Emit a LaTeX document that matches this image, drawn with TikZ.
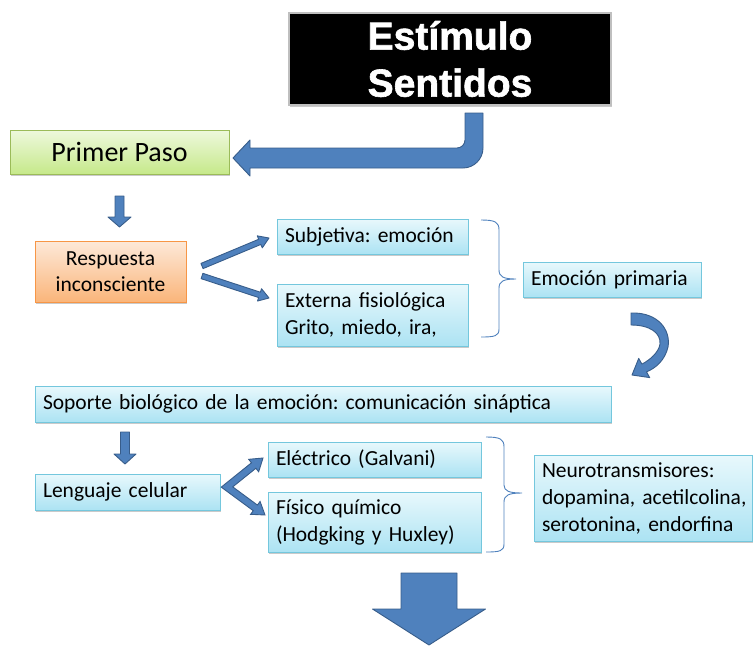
\documentclass[tikz,border=0pt]{standalone}
\usepackage{fontspec}
\setmainfont{Carlito}
\newfontfamily\headfont{Liberation Sans}[BoldFeatures={FakeBold=1.6}]
\usetikzlibrary{calc,shadows}
\frenchspacing
\definecolor{arrowfill}{HTML}{4F81BD}
\definecolor{arrowline}{HTML}{385D8A}
\definecolor{cyantop}{HTML}{E8F8FC}
\definecolor{cyanbot}{HTML}{ACE3F3}
\definecolor{cyanline}{HTML}{74C7DD}
\definecolor{greentop}{HTML}{EEF8DD}
\definecolor{greenbot}{HTML}{C6E98A}
\definecolor{greenline}{HTML}{9BBB59}
\definecolor{orangetop}{HTML}{FDE9D9}
\definecolor{orangebot}{HTML}{FAB57A}
\definecolor{orangeline}{HTML}{F79646}
\definecolor{bracecol}{HTML}{4F81BD}
\newcommand\blkarrow[5]{%
  \path ($(#2)!#5!(#1)$) coordinate (hb);
  \filldraw[blockarr] ($(#1)!#3!90:(#2)$) -- ($(hb)!#3!-90:(#1)$) -- ($(hb)!#4!-90:(#1)$) -- (#2) -- ($(hb)!#4!90:(#1)$) -- ($(hb)!#3!90:(#1)$) -- ($(#1)!#3!-90:(#2)$) -- cycle;}
\begin{document}
\begin{tikzpicture}[x=1pt,y=-1pt,
  blockarr/.style={fill=arrowfill,draw=arrowline,line width=0.9pt,line join=round},
  shadowed/.style={drop shadow={shadow xshift=1.3pt,shadow yshift=-1.6pt,opacity=0.35,fill=black!60}},
  basebox/.style={shadowed,line width=0.8pt,inner xsep=10pt,inner ysep=0pt,anchor=center,
    font=\frenchspacing\fontsize{21.5}{27}\selectfont},
  cbox/.style={basebox,draw=cyanline,top color=cyantop,bottom color=cyanbot,align=left},
  gbox/.style={basebox,draw=greenline,top color=greentop,bottom color=greenbot,align=center},
  obox/.style={basebox,draw=orangeline,top color=orangetop,bottom color=orangebot,align=center},
  bracket/.style={draw=bracecol,line width=0.9pt}]
\useasboundingbox (0,0) rectangle (754,645);

% title box
\node[shadowed,fill=black,draw=black!25,line width=2pt,minimum width=322pt,minimum height=92pt,
  inner sep=0pt,align=center,text=white,font=\headfont\bfseries\fontsize{39}{47}\selectfont]
  (stim) at (450,59) {Estímulo\\Sentidos};

% boxes
\node[gbox,minimum width=219pt,minimum height=44pt,font=\fontsize{28}{32}\selectfont] (primer) at (119.5,152) {Primer Paso};
\node[obox,minimum width=151pt,minimum height=61pt,font=\fontsize{21.5}{26}\selectfont] (resp) at (110.5,271.5) {Respuesta\\inconsciente};
\node[cbox,minimum width=191pt,minimum height=35pt,text width=175pt,inner xsep=8pt] (subj) at (372.5,236.5) {Subjetiva: emoción};
\node[cbox,minimum width=191pt,minimum height=62pt,text width=175pt,inner xsep=8pt] (ext) at (372.5,315) {Externa fisiológica\\Grito, miedo, ira,};
\node[cbox,minimum width=178pt,minimum height=35pt,text width=162pt,inner xsep=8pt] (emo) at (612,279.5) {Emoción primaria};
\node[cbox,minimum width=576pt,minimum height=36pt,text width=560pt,inner xsep=8pt] (sop) at (323,404) {Soporte biológico de la emoción: comunicación sináptica};
\node[cbox,minimum width=185pt,minimum height=36pt,text width=169pt,inner xsep=8pt] (len) at (127.5,492) {Lenguaje celular};
\node[cbox,minimum width=213pt,minimum height=35pt,text width=197pt,inner xsep=8pt] (elec) at (374.5,459.5) {Eléctrico (Galvani)};
\node[cbox,minimum width=213pt,minimum height=60pt,text width=197pt,inner xsep=8pt] (fis) at (374.5,522) {Físico químico\\(Hodgking y Huxley)};
\node[cbox,minimum width=218pt,minimum height=86pt,text width=208pt,inner xsep=5pt] (neuro) at (643,498) {\hspace*{3pt}Neurotransmisores:\\\hspace*{3pt}dopamina, acetilcolina,\\\hspace*{3pt}serotonina, endorfina};

% bent arrow from title to Primer Paso
\filldraw[blockarr] (465,113) -- (483,113) -- (483,148) .. controls (483,159) and (474,168) .. (463,168)
  -- (250,168) -- (250,176) -- (233,158) -- (250,140) -- (250,148) -- (457,148)
  .. controls (461.4,148) and (465,144.4) .. (465,140) -- cycle;

% straight block arrows
\coordinate (a1s) at (119.5,196); \coordinate (a1t) at (119.5,227);
\blkarrow{a1s}{a1t}{4.5pt}{11.5pt}{10pt}
\coordinate (a2s) at (202,266); \coordinate (a2t) at (269,238);
\blkarrow{a2s}{a2t}{2.8pt}{6.5pt}{10pt}
\coordinate (a3s) at (202,276); \coordinate (a3t) at (269,298);
\blkarrow{a3s}{a3t}{2.8pt}{6.5pt}{10pt}
\coordinate (a4s) at (125,432); \coordinate (a4t) at (125,464);
\blkarrow{a4s}{a4t}{4.5pt}{11pt}{10pt}
\coordinate (a5s) at (429,573); \coordinate (a5t) at (429,645);
\blkarrow{a5s}{a5t}{28pt}{56.5pt}{36pt}

% curved arrow
\filldraw[blockarr] (631,313) .. controls (658,312) and (671,330) .. (668,347)
  .. controls (665,360) and (656,368) .. (646.5,371.9) -- (649.7,377.6) -- (632,375)
  -- (638.7,358.4) -- (641.9,364.1) .. controls (650,360) and (659,352) .. (660,344)
  .. controls (661,333) and (650,325) .. (631,325) -- cycle;

% chevron double arrow
\filldraw[blockarr,line join=miter] (221.25,487.13) -- (251.45,462.81) -- (248.63,459.31) -- (263,458)
  -- (258.67,471.77) -- (255.85,468.27) -- (232.75,486.87) -- (257.42,505.06) -- (260.08,501.44)
  -- (265,515) -- (250.60,514.32) -- (253.26,510.70) -- cycle;

% braces
\draw[bracket] (481,220) .. controls (495,220) and (499,222) .. (499,230) -- (499,270)
  .. controls (499,277) and (504,279) .. (516,279)
  .. controls (504,279) and (499,281) .. (499,288) -- (499,329)
  .. controls (499,336) and (495,337) .. (481,337);
\draw[bracket] (486,437) .. controls (500,437) and (504,439) .. (504,447) -- (504,485)
  .. controls (504,491) and (509,493) .. (522,493)
  .. controls (509,493) and (504,495) .. (504,502) -- (504,544)
  .. controls (504,551) and (500,552) .. (486,552);
\end{tikzpicture}
\end{document}
